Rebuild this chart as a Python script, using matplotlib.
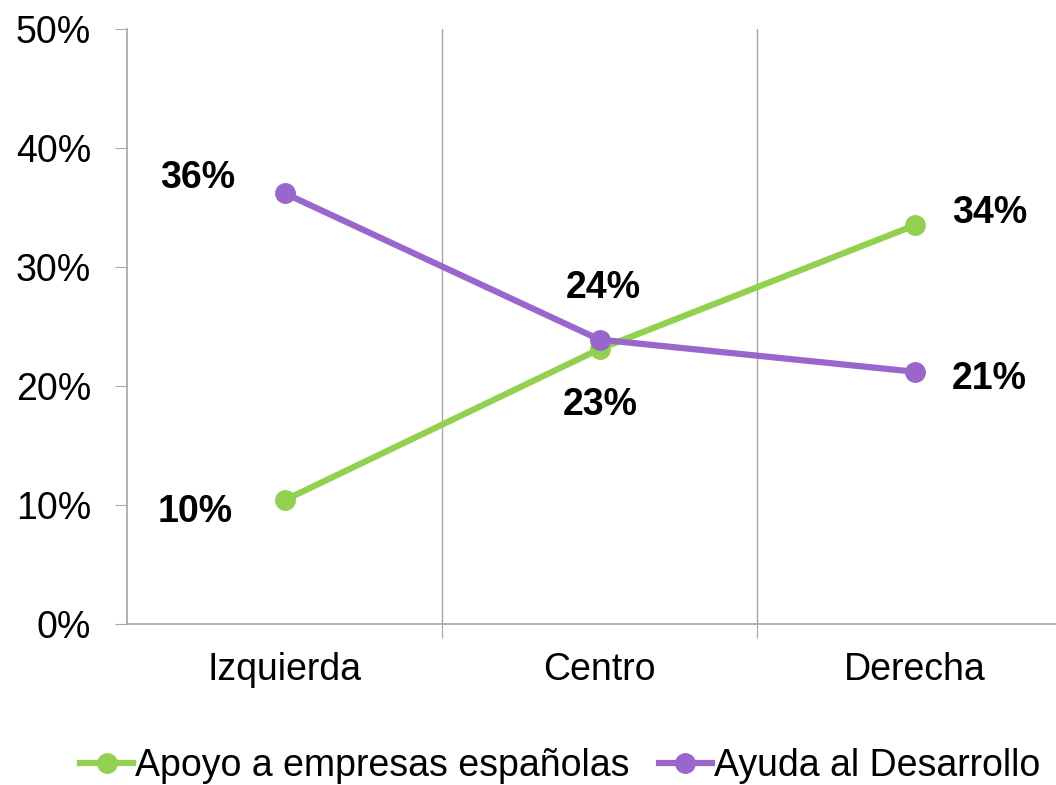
import matplotlib.pyplot as plt
from matplotlib.ticker import PercentFormatter

plt.rcParams['font.family'] = ['Liberation Sans', 'DejaVu Sans']

categories = ['Izquierda', 'Centro', 'Derecha']
apoyo = [10.4, 23.1, 33.5]
ayuda = [36.2, 23.9, 21.2]
apoyo_labels = ['10%', '23%', '34%']
ayuda_labels = ['36%', '24%', '21%']

green = '#92D050'
purple = '#9966CC'
grid_col = '#A6A6A6'

W, H = 1056, 785
fig = plt.figure(figsize=(W / 100, H / 100), dpi=100)
ax = fig.add_axes([127 / W, (H - 624) / H, 945 / W, 595 / H])

x = range(len(categories))
ax.plot(x, apoyo, color=green, lw=4.5, marker='o', ms=14, label='Apoyo a empresas españolas', zorder=3)
ax.plot(x, ayuda, color=purple, lw=4.5, marker='o', ms=14, label='Ayuda al Desarrollo', zorder=4)

# label offsets in pixels
apoyo_off = [(-89, -12), (1, -56), (75, 12)]
ayuda_off = [(-87, 15), (4, 52), (75, -7)]
for i in x:
    ax.annotate(apoyo_labels[i], (i, apoyo[i]), xytext=apoyo_off[i], textcoords='offset pixels',
                ha='center', va='center', fontsize=27, fontweight='bold')
    ax.annotate(ayuda_labels[i], (i, ayuda[i]), xytext=ayuda_off[i], textcoords='offset pixels',
                ha='center', va='center', fontsize=27, fontweight='bold')

ax.set_xlim(-0.5, 2.5)
ax.set_ylim(0, 50)
ax.set_yticks(range(0, 51, 10))
ax.yaxis.set_major_formatter(PercentFormatter(decimals=0))
ax.set_xticks([0.5, 1.5], minor=False)
ax.set_xticklabels([])
ax.set_xticks(list(x), minor=True)
ax.set_xticklabels(categories, minor=True)
ax.tick_params(axis='x', which='major', length=10, color=grid_col, direction='out')
ax.tick_params(axis='x', which='minor', length=0, pad=20, labelsize=27)
ax.tick_params(axis='y', length=9, color=grid_col, pad=17, labelsize=27)
ax.grid(axis='x', which='major', color=grid_col, lw=1)

for s in ['top', 'right']:
    ax.spines[s].set_visible(False)
for s in ['left', 'bottom']:
    ax.spines[s].set_color(grid_col)
    ax.spines[s].set_linewidth(1.2)

fig.legend(loc='center', bbox_to_anchor=(560 / W, (H - 766) / H), ncol=2, frameon=False,
           fontsize=27, handlelength=1.4, handletextpad=0.05, columnspacing=0.8, borderpad=0)

fig.savefig('out.png', dpi=100)
